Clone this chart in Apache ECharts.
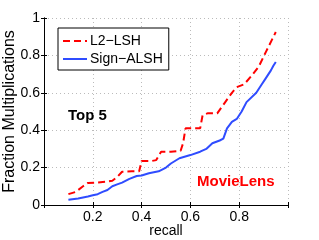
<!DOCTYPE html>
<html><head><meta charset="utf-8">
<script src="https://cdn.jsdelivr.net/npm/echarts@6/dist/echarts.min.js"></script>
<style>html,body{margin:0;padding:0;background:#fff}#c{width:319px;height:240px}</style>
</head><body><div id="c"></div>
<script>
var l2Recall = [0.10,0.13,0.16,0.18,0.22,0.26,0.28,0.30,0.32,0.36,0.39,0.40,0.44,0.46,0.48,0.52,0.56,0.57,0.58,0.64,0.65,0.67,0.71,0.74,0.77,0.79,0.82,0.85,0.88,0.91,0.95];
var l2Frac   = [0.058,0.07,0.10,0.118,0.12,0.125,0.13,0.15,0.178,0.18,0.18,0.235,0.235,0.24,0.285,0.285,0.29,0.33,0.41,0.41,0.48,0.49,0.49,0.545,0.60,0.63,0.645,0.69,0.74,0.82,0.925];
var signRecall = [0.10,0.14,0.18,0.20,0.22,0.24,0.26,0.28,0.30,0.32,0.35,0.38,0.40,0.43,0.47,0.50,0.52,0.555,0.60,0.64,0.665,0.69,0.72,0.735,0.75,0.77,0.79,0.81,0.83,0.87,0.89,0.91,0.93,0.94,0.95];
var signFrac   = [0.028,0.035,0.045,0.052,0.058,0.07,0.08,0.10,0.11,0.12,0.14,0.155,0.158,0.17,0.18,0.20,0.222,0.25,0.267,0.285,0.30,0.33,0.345,0.355,0.41,0.445,0.46,0.50,0.55,0.60,0.64,0.68,0.72,0.745,0.765];
var seriesNames = ['L2\u2212LSH','Sign\u2212ALSH'];
var xTicks = [0.2,0.4,0.6,0.8];
var yTicks = [0,0.2,0.4,0.6,0.8,1];

function pairs(xs, ys){ return xs.map(function(x,i){return [x, ys[i]];}); }
var FONT = '"Liberation Sans", Arial, sans-serif';
var chart = echarts.init(document.getElementById('c'), null, {renderer:'canvas'});
var gridLine = {show:true, lineStyle:{color:'#bbbbbb', type:[1,3], width:1}};
chart.setOption({
  animation:false,
  backgroundColor:'#fff',
  grid:{left:44, right:31, top:18, bottom:35, containLabel:false, outerBoundsMode:'none'},
  legend:{
    left:58, top:28, width:111, orient:'vertical',
    backgroundColor:'#fff', borderColor:'#000', borderWidth:1,
    padding:[6,6,4,4], itemGap:4, itemWidth:24, itemHeight:14,
    itemStyle:{opacity:0},
    textStyle:{fontFamily:FONT, fontSize:14, color:'#000', padding:[0,0,0,-2]},
    data:seriesNames
  },
  xAxis:[{
    type:'value', min:0, max:1, interval:0.2,
    name:'recall', nameLocation:'middle', nameGap:19, nameMoveOverlap:false,
    nameTextStyle:{fontFamily:FONT, fontSize:14, color:'#000'},
    axisLine:{lineStyle:{color:'#000', width:1}},
    axisTick:{inside:true, length:3, lineStyle:{color:'#000'}},
    axisLabel:{fontFamily:FONT, fontSize:14, color:'#000', margin:5,
      formatter:function(v){ return xTicks.some(function(t){return Math.abs(t-v)<1e-6;}) ? String(Math.round(v*10)/10) : ''; }},
    splitLine:gridLine
  },{
    type:'value', min:0, max:1, interval:0.2, position:'top',
    axisLine:{lineStyle:{color:'#000', width:1}},
    axisTick:{inside:true, length:3, lineStyle:{color:'#000'}},
    axisLabel:{show:false}, splitLine:{show:false}
  }],
  yAxis:[{
    type:'value', min:0, max:1, interval:0.2,
    name:'Fraction Multiplications', nameLocation:'middle', nameGap:26, nameMoveOverlap:false,
    nameTextStyle:{fontFamily:FONT, fontSize:16, color:'#000'},
    axisLine:{show:true, lineStyle:{color:'#000', width:1}},
    axisTick:{show:true, inside:true, length:3, lineStyle:{color:'#000'}},
    axisLabel:{fontFamily:FONT, fontSize:14, color:'#000', margin:4,
      formatter:function(v){ return String(Math.round(v*10)/10); }},
    splitLine:gridLine
  },{
    type:'value', min:0, max:1, interval:0.2, position:'right',
    axisLine:{show:true, lineStyle:{color:'#000', width:1}},
    axisTick:{show:true, inside:true, length:3, lineStyle:{color:'#000'}},
    axisLabel:{show:false}, splitLine:{show:false}
  }],
  series:[{
    name:seriesNames[0], type:'line', symbol:'none', z:3,
    data:pairs(l2Recall, l2Frac),
    lineStyle:{color:'#ff0000', width:2, type:[7,4]}, itemStyle:{color:'#ff0000'}
  },{
    name:seriesNames[1], type:'line', symbol:'none', z:3,
    data:pairs(signRecall, signFrac),
    lineStyle:{color:'#2f4cff', width:2}, itemStyle:{color:'#2f4cff'}
  }],
  graphic:[
    {type:'text', left:68, top:108, style:{text:'Top 5', font:'bold 15px '+FONT, fill:'#000'}},
    {type:'text', left:197, top:174, style:{text:'MovieLens', font:'bold 15px '+FONT, fill:'#ff0000'}}
  ]
});
</script></body></html>
